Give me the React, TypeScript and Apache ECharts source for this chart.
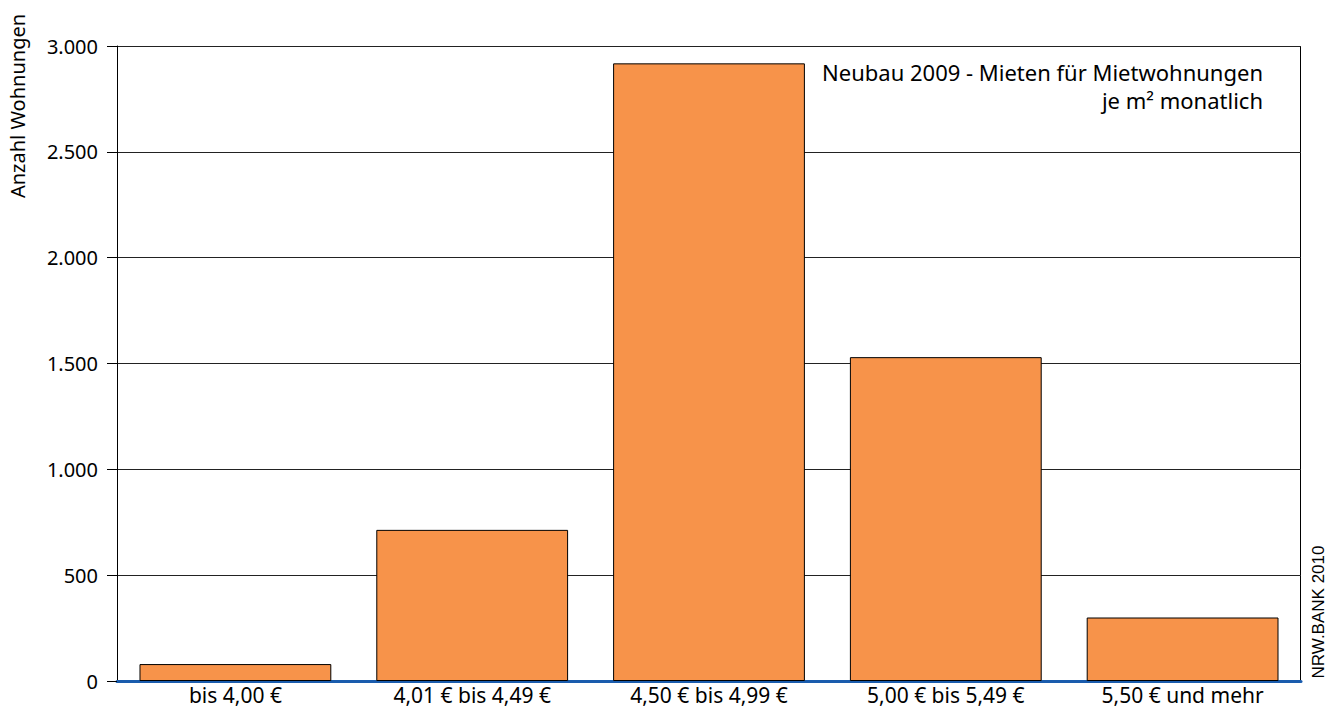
import React, { useEffect, useRef } from "react";
import * as echarts from "echarts";

const categories = ["bis 4,00 €", "4,01 € bis 4,49 €", "4,50 € bis 4,99 €", "5,00 € bis 5,49 €", "5,50 € und mehr"];
const values = [80, 714, 2918, 1530, 300];
const yTicks = { min: 0, max: 3000, interval: 500 };
const titleLines = ["Neubau 2009 - Mieten für Mietwohnungen", "je m² monatlich"];
const yAxisName = "Anzahl Wohnungen";
const sourceText = "NRW.BANK 2010";

const FONT = "'Noto Sans', 'Open Sans', sans-serif";

export default function App() {
  const ref = useRef<HTMLDivElement>(null);
  useEffect(() => {
    document.body.style.margin = "0";
    const chart = echarts.init(ref.current!, null, { renderer: "svg" });
    chart.setOption({
      animation: false,
      grid: { left: 117, right: 32, top: 46, bottom: 30, containLabel: false },
      xAxis: {
        type: "category",
        data: categories,
        axisLine: { show: true, lineStyle: { color: "#1a5cad", width: 3 } },
        axisTick: { show: false },
        axisLabel: { color: "#000", fontSize: 21, fontFamily: FONT, margin: 3 },
      },
      yAxis: {
        type: "value",
        min: yTicks.min,
        max: yTicks.max,
        interval: yTicks.interval,
        axisLine: { show: true, lineStyle: { color: "#000", width: 1 } },
        axisTick: { show: true, length: 10, lineStyle: { color: "#000", width: 1 } },
        axisLabel: {
          color: "#000",
          fontSize: 20,
          fontFamily: FONT,
          margin: 19,
          formatter: (v: number) => v.toLocaleString("de-DE"),
        },
        splitLine: { show: true, lineStyle: { color: "#222", width: 1 } },
      },
      series: [
        {
          type: "bar",
          data: values,
          barCategoryGap: "19%",
          itemStyle: { color: "#f7934a", borderColor: "#000", borderWidth: 1 },
          z: 1,
        },
      ],
      graphic: [
        {
          type: "rect",
          shape: { x: 1300.5, y: 46, width: 0, height: 635 },
          style: { stroke: "#000", lineWidth: 1, fill: "none" },
          silent: true,
        },
        {
          type: "text",
          right: 1333 - 1263,
          top: 58,
          style: {
            text: titleLines.join("\n"),
            fill: "#000",
            font: `22px ${FONT}`,
            textAlign: "right",
            lineHeight: 28,
          },
        },
        {
          type: "text",
          x: 17,
          y: 106,
          rotation: Math.PI / 2,
          style: {
            text: yAxisName,
            fill: "#000",
            font: `20px ${FONT}`,
            textAlign: "center",
            textVerticalAlign: "middle",
          },
        },
        {
          type: "text",
          x: 1318,
          y: 612,
          rotation: Math.PI / 2,
          style: {
            text: sourceText,
            fill: "#000",
            font: "17px 'Liberation Sans', Arial, sans-serif",
            textAlign: "center",
            textVerticalAlign: "middle",
          },
        },
      ],
    });
    return () => chart.dispose();
  }, []);
  return <div ref={ref} style={{ width: 1333, height: 711 }} />;
}
